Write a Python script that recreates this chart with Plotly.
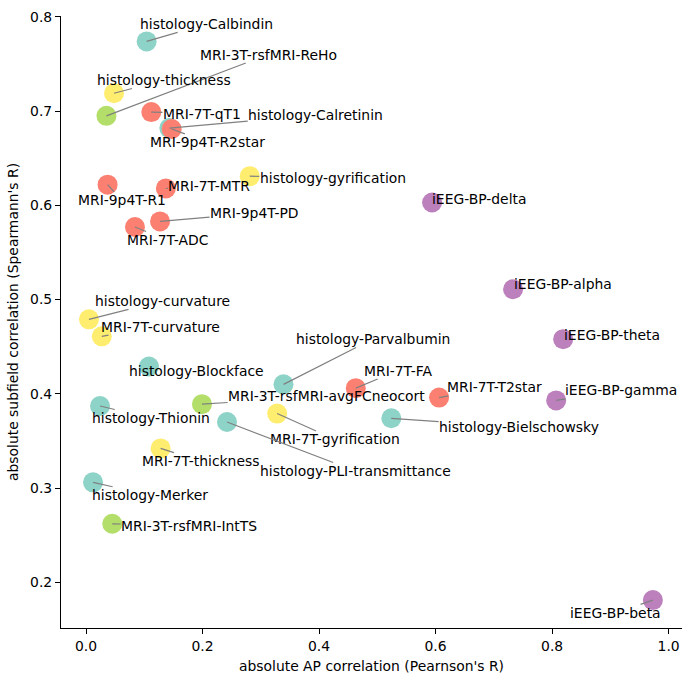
import plotly.graph_objects as go

names = [
    "histology-Calbindin", "MRI-3T-rsfMRI-ReHo", "histology-thickness", "MRI-7T-qT1",
    "histology-Calretinin", "MRI-9p4T-R2star", "histology-gyrification", "MRI-9p4T-R1",
    "MRI-7T-MTR", "MRI-9p4T-PD", "MRI-7T-ADC", "iEEG-BP-delta",
    "iEEG-BP-alpha", "iEEG-BP-theta", "iEEG-BP-gamma", "iEEG-BP-beta",
    "histology-curvature", "MRI-7T-curvature", "histology-Blockface", "histology-Parvalbumin",
    "MRI-7T-FA", "MRI-7T-T2star", "histology-Thionin", "MRI-3T-rsfMRI-avgFCneocort",
    "MRI-7T-gyrification", "histology-PLI-transmittance", "histology-Bielschowsky",
    "MRI-7T-thickness", "histology-Merker", "MRI-3T-rsfMRI-IntTS",
]
ap_corr = [
    0.104, 0.035, 0.048, 0.112,
    0.143, 0.147, 0.281, 0.037,
    0.137, 0.127, 0.084, 0.594,
    0.733, 0.819, 0.807, 0.973,
    0.005, 0.027, 0.108, 0.339,
    0.463, 0.606, 0.024, 0.199,
    0.328, 0.242, 0.524,
    0.128, 0.012, 0.045,
]
subfield_corr = [
    0.774, 0.695, 0.719, 0.699,
    0.682, 0.681, 0.631, 0.622,
    0.618, 0.583, 0.577, 0.603,
    0.511, 0.458, 0.393, 0.181,
    0.479, 0.461, 0.429, 0.410,
    0.406, 0.396, 0.387, 0.389,
    0.379, 0.370, 0.374,
    0.342, 0.306, 0.262,
]
groups = [
    "hist", "rsf", "morph", "mri",
    "hist", "mri", "morph", "mri",
    "mri", "mri", "mri", "ieeg",
    "ieeg", "ieeg", "ieeg", "ieeg",
    "morph", "morph", "hist", "hist",
    "mri", "mri", "hist", "rsf",
    "morph", "hist", "hist",
    "morph", "hist", "rsf",
]
# label placement (layout, in data units)
label_x = [
    0.2074, 0.3127, 0.1338, 0.1991,
    0.3943, 0.2091, 0.4233, 0.0610,
    0.2114, 0.2893, 0.1390, 0.6756,
    0.8179, 0.9021, 0.9179, 0.9093,
    0.1304, 0.1278, 0.1899, 0.4923,
    0.5356, 0.7017, 0.1117, 0.4130,
    0.4276, 0.4625, 0.7435,
    0.1968, 0.1103, 0.1768,
]
label_y = [
    0.7926, 0.7601, 0.7331, 0.6975,
    0.6957, 0.6668, 0.6291, 0.6052,
    0.6210, 0.5918, 0.5632, 0.6069,
    0.5164, 0.4625, 0.4036, 0.1675,
    0.4987, 0.4712, 0.4237, 0.4582,
    0.4247, 0.4068, 0.3743, 0.3976,
    0.3515, 0.3180, 0.3645,
    0.3285, 0.2923, 0.2598,
]

palette = {"hist": "#8dd3c7", "morph": "#ffed6f", "mri": "#fb8072",
           "rsf": "#b3de69", "ieeg": "#bc80bd"}
colors = [palette[g] for g in groups]

FONT = "DejaVu Sans"
fig = go.Figure()
fig.add_trace(go.Scatter(
    x=ap_corr, y=subfield_corr, mode="markers",
    marker=dict(size=20, color=colors, line=dict(width=0)),
    hovertext=names, showlegend=False, cliponaxis=False,
))

annotations = []
for n, x, y, lx, ly in zip(names, ap_corr, subfield_corr, label_x, label_y):
    annotations.append(dict(
        x=x, y=y, xref="x", yref="y", ax=lx, ay=ly, axref="x", ayref="y",
        text=n, showarrow=True, arrowhead=0, arrowwidth=1.2, arrowcolor="#808080",
        standoff=0, startstandoff=0, font=dict(family=FONT, size=13.9, color="black"),
        borderpad=0,
    ))

fig.update_layout(
    width=691, height=681,
    margin=dict(l=61, r=9, t=13, b=53),
    plot_bgcolor="white", paper_bgcolor="white",
    font=dict(family=FONT, size=13.9, color="black"),
    annotations=annotations,
    xaxis=dict(
        range=[-0.043, 1.023], tickvals=[0.0, 0.2, 0.4, 0.6, 0.8, 1.0],
        ticktext=["0.0", "0.2", "0.4", "0.6", "0.8", "1.0"],
        showgrid=False, zeroline=False, showline=True, linecolor="black", linewidth=1.1,
        ticks="outside", ticklen=5, tickwidth=1.1, tickcolor="black",
        title=dict(text="absolute AP correlation (Pearnson's R)", standoff=8,
                   font=dict(family=FONT, size=13.9)),
    ),
    yaxis=dict(
        range=[0.1514, 0.801], tickvals=[0.2, 0.3, 0.4, 0.5, 0.6, 0.7, 0.8],
        ticktext=["0.2", "0.3", "0.4", "0.5", "0.6", "0.7", "0.8"],
        showgrid=False, zeroline=False, showline=True, linecolor="black", linewidth=1.1,
        ticks="outside", ticklen=5, tickwidth=1.1, tickcolor="black",
        title=dict(text="absolute subfield correlation (Spearmann's R)", standoff=8,
                   font=dict(family=FONT, size=13.9)),
    ),
)

fig.write_html("out.html")
